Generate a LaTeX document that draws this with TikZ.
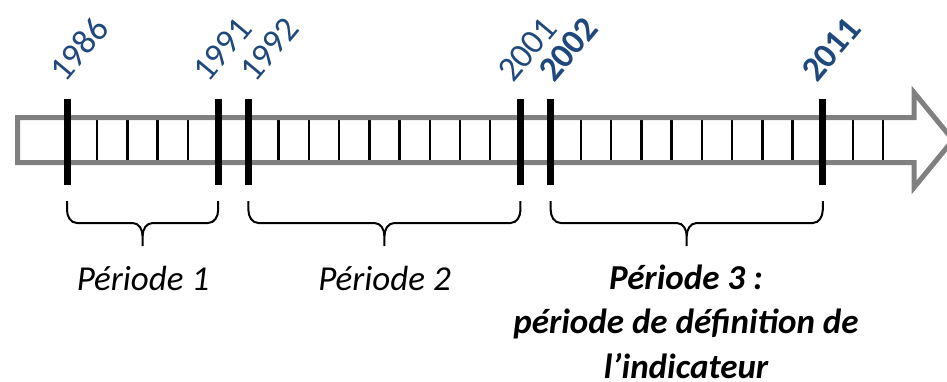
\documentclass[tikz,border=0pt]{standalone}
\usepackage{fontspec}
\setmainfont{Carlito}
\usepackage{tikz}

\definecolor{bleuannee}{HTML}{1F497D}
\definecolor{grisfleche}{HTML}{808080}

\begin{document}
\begin{tikzpicture}[x=1pt,y=1pt,
  graduation/.style={line width=2.5pt},
  borne/.style={line width=7pt},
  annee/.style={rotate=50,anchor=base west,inner sep=0pt,text=bleuannee,
    font=\fontsize{35}{40}\selectfont},
  periode/.style={anchor=base,inner sep=0pt,align=center,
    font=\fontsize{35}{44.5}\selectfont\itshape}]
\clip (0,0) rectangle (947,381);
% fleche du temps
\fill[white] (17.5,218.5) -- (17.5,263.5) -- (914,263.5) -- (914,288.5)
  -- (953,241) -- (914,193.5) -- (914,218.5) -- cycle;
\foreach \n in {0,...,27}
 {
   \draw[graduation] ({67+30.23*\n},218.5) -- ({67+30.23*\n},263.5);
 }
\draw[grisfleche,line width=5pt] (17.5,218.5) -- (17.5,263.5) -- (914,263.5) -- (914,288.5)
  -- (953,241) -- (914,193.5) -- (914,218.5) -- cycle;
\foreach \n in {0,5,6,15,16,25}
 {
   \draw[borne] ({67+30.23*\n},196) -- ({67+30.23*\n},282);
 }
% annees
\node[annee] (a1986) at (65,297) {1986};
\node[annee] (a1991) at (208,297) {1991};
\node[annee] (a1992) at (255,297) {1992};
\node[annee] (a2001) at (513,297) {2001};
\node[annee,font=\fontsize{35}{40}\selectfont\bfseries] (a2002) at (554,297) {2002};
\node[annee,font=\fontsize{35}{40}\selectfont\bfseries] (a2011) at (817,297) {2011};
% accolades
\foreach \a/\b in {0/5,6/15,16/25}
 {
   \pgfmathsetmacro{\xa}{67+30.23*\a}
   \pgfmathsetmacro{\xb}{67+30.23*\b}
   \pgfmathsetmacro{\xm}{(\xa+\xb)/2}
   \draw[line width=2pt] (\xa,180) -- (\xa,171) to[out=-90,in=180] (\xa+10,158)
     -- (\xm-10,158) to[out=0,in=90] (\xm,145) -- (\xm,135);
   \draw[line width=2pt] (\xm,145) to[out=90,in=180] (\xm+10,158)
     -- (\xb-10,158) to[out=0,in=-90] (\xb,171) -- (\xb,180);
 }
% periodes
\node[periode] (p1) at (143,91) {Période 1};
\node[periode] (p2) at (384.5,91) {Période 2};
\node[periode,font=\fontsize{35}{44.5}\selectfont\itshape\bfseries] (p3) at (686,3)
  {Période 3 :\\période de définition de\\l’indicateur};
\end{tikzpicture}
\end{document}
